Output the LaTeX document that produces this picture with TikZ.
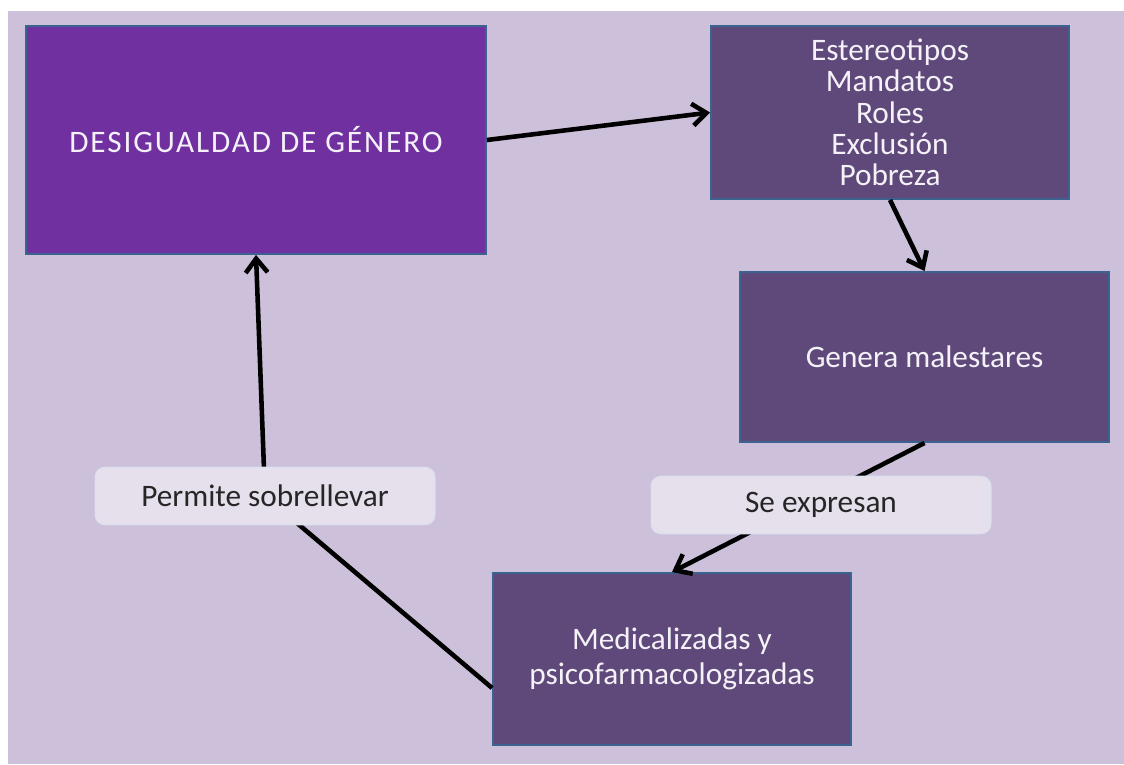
\documentclass[tikz,border=0pt]{standalone}
\usepackage{fontspec}
\setmainfont{Carlito}
\usepackage{xcolor}
\usepackage{tikz}
\usetikzlibrary{arrows.meta}

\definecolor{fondo}{HTML}{CCC0DA}
\definecolor{morado}{HTML}{7030A0}
\definecolor{violeta}{HTML}{5F497A}
\definecolor{borde}{HTML}{3C6390}
\definecolor{lila}{HTML}{E5E0EC}
\definecolor{bordelila}{HTML}{DCE0EE}
\definecolor{letra}{HTML}{F4F2F8}

\begin{document}
\begin{tikzpicture}[x=0.02cm, y=-0.02cm,
    caja/.style={draw=borde, line width=1.1pt, fill=violeta, text=letra, align=center,
        font=\fontsize{17.8}{17.8}\selectfont},
    etiqueta/.style={draw=bordelila, line width=0.6pt, fill=lila, rounded corners=0.2cm,
        minimum width=6.8cm, minimum height=1.15cm, text=black!85,
        font=\fontsize{17.8}{17.8}\selectfont},
    flecha/.style={line width=2.6pt, -{Straight Barb[length=0.28cm,width=0.44cm]}}]
    \useasboundingbox (0,0) rectangle (1124,764);
    \fill[fondo] (8,11) rectangle (1124,764);

    \node[caja, fill=morado, minimum width=9.2cm, minimum height=4.56cm] (desig) at (256,140)
        {\addfontfeatures{LetterSpace=6}DESIGUALDAD DE GÉNERO};
    \node[caja, minimum width=7.16cm, minimum height=3.46cm] (estereo) at (890,112.5)
        {Estereotipos\\Mandatos\\Roles\\Exclusión\\Pobreza};
    \node[caja, minimum width=7.38cm, minimum height=3.4cm] (malestar) at (924.5,357)
        {Genera malestares};
    \node[caja, minimum width=7.16cm, minimum height=3.44cm] (medic) at (672,659)
        {Medicalizadas y\\[2pt]psicofarmacologizadas};

    \draw[flecha] (desig.east) -- (estereo.west);
    \draw[flecha] (estereo.south) -- (malestar.north);
    \draw[flecha] (malestar.south) -- (medic.north);
    \coordinate (perm) at (265,496);
    \draw[flecha] ([yshift=-0.58cm]medic.west) -- (perm) -- (desig.south);

    % etiquetas encima de las flechas
    \node[etiqueta] (expresan) at (821,505) {Se expresan};
    \node[etiqueta] (sobrellevar) at (perm) {Permite sobrellevar};
\end{tikzpicture}
\end{document}
